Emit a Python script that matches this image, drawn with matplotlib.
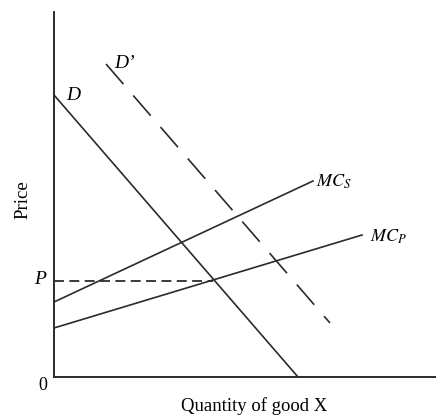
import matplotlib.pyplot as plt

# curve end points (quantity, price) in chart units
d_x = [0, 244]
d_y = [282, 0]
d2_x = [52, 276]
d2_y = [313, 54]
mcs_x = [0, 259]
mcs_y = [75, 196]
mcp_x = [0, 308]
mcp_y = [49, 142]
p_level = 96
p_q = 159

plt.rcParams['mathtext.fontset'] = 'stix'
serif = 'Liberation Serif'
ink = '#2b2b2b'

fig = plt.figure(figsize=(4.36, 4.17), dpi=100)
ax = fig.add_axes([54 / 436, 40 / 417, 382 / 436, 365 / 417])
ax.set_xlim(0, 382)
ax.set_ylim(0, 365)

for s in ['top', 'right']:
    ax.spines[s].set_visible(False)
for s in ['left', 'bottom']:
    ax.spines[s].set_linewidth(1.4)
    ax.spines[s].set_color(ink)
ax.set_xticks([])
ax.set_yticks([])

ax.plot(d_x, d_y, color=ink, lw=1.2)
ax.plot(d2_x, d2_y, color=ink, lw=1.2, dashes=(16, 9))
ax.plot(mcs_x, mcs_y, color=ink, lw=1.2)
ax.plot(mcp_x, mcp_y, color=ink, lw=1.2)
ax.plot([0, p_q], [p_level, p_level], color=ink, lw=1.3, dashes=(5.5, 3))

ax.text(d_x[0] + 12, d_y[0], 'D', fontsize=14, family=serif, style='italic',
        va='center', ha='left')
ax.text(d2_x[0] + 8, d2_y[0] + 1, 'D\u2019', fontsize=14, family=serif, style='italic',
        va='center', ha='left')
ax.text(mcs_x[1] + 3, mcs_y[1] - 1, '$MC_S$', fontsize=13, va='center', ha='left')
ax.text(mcp_x[1] + 8, mcp_y[1] - 2, '$MC_P$', fontsize=13, va='center', ha='left')
ax.text(-8, p_level + 2, 'P', fontsize=14, family=serif, style='italic',
        va='center', ha='right')

ax.text(-11, -8, '0', fontsize=13, family=serif, va='center', ha='center')
ax.text(200, -29, 'Quantity of good X', fontsize=13.5, family=serif,
        va='center', ha='center')
ax.text(-31, 177, 'Price', fontsize=13.5, family=serif, rotation=90,
        va='center', ha='center')

fig.savefig('out.png', dpi=100)
